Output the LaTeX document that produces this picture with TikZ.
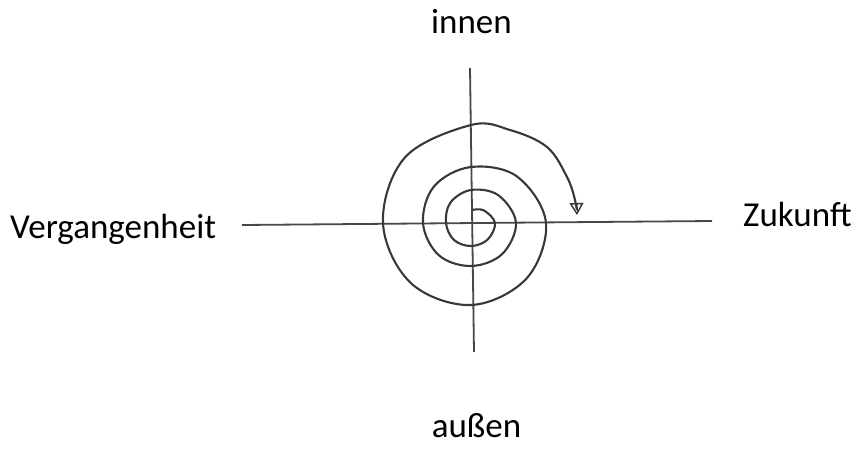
\documentclass[tikz,border=0pt]{standalone}
\usepackage{fontspec}
\setmainfont{Carlito}
\usetikzlibrary{arrows.meta}
\begin{document}
\begin{tikzpicture}[x=1pt,y=-1pt,
 axis/.style={line width=1.8pt, draw=black!72},
 spiral/.style={line width=2.1pt, draw=black!78},
 lbl/.style={font=\fontsize{35}{42}\selectfont, anchor=base, inner sep=0pt}]
\useasboundingbox (0,0) rectangle (855,448);
\coordinate (vt) at (470,68);
\coordinate (vb) at (474,352);
\coordinate (hl) at (242,225);
\coordinate (hr) at (712,221);
\draw[axis] (vt) -- (vb);
\draw[axis] (hl) -- (hr);
\draw[spiral, -{Triangle[open,length=12pt,width=14pt,line width=1.4pt]}]
  plot[smooth, tension=0.6] coordinates {
  (472,210) (483.7,210.3) (495,223) (487.6,239.6) (471,246) (454,240) (446,223)
  (450.5,202.5) (471,190) (498.6,195.4) (516,223) (502.1,254.1) (471,266)
  (438.8,255.2) (423,223) (434.2,186.2) (471,167) (517.3,176.7) (546,223)
  (526.5,278.5) (471,305) (410.9,283.1) (383,223) (405.2,157.2) (471,125)
  (510,130) (547,147) (567,177) (575,200) (577,215)};
\node[lbl] (innen) at (471.5,33) {innen};
\node[lbl, text depth=0pt] (aussen) at (476.5,437) {außen};
\node[lbl, anchor=base west] (verg) at (10,238) {Vergangenheit};
\node[lbl, anchor=base west] (zuk) at (743,226) {Zukunft};
\end{tikzpicture}
\end{document}
